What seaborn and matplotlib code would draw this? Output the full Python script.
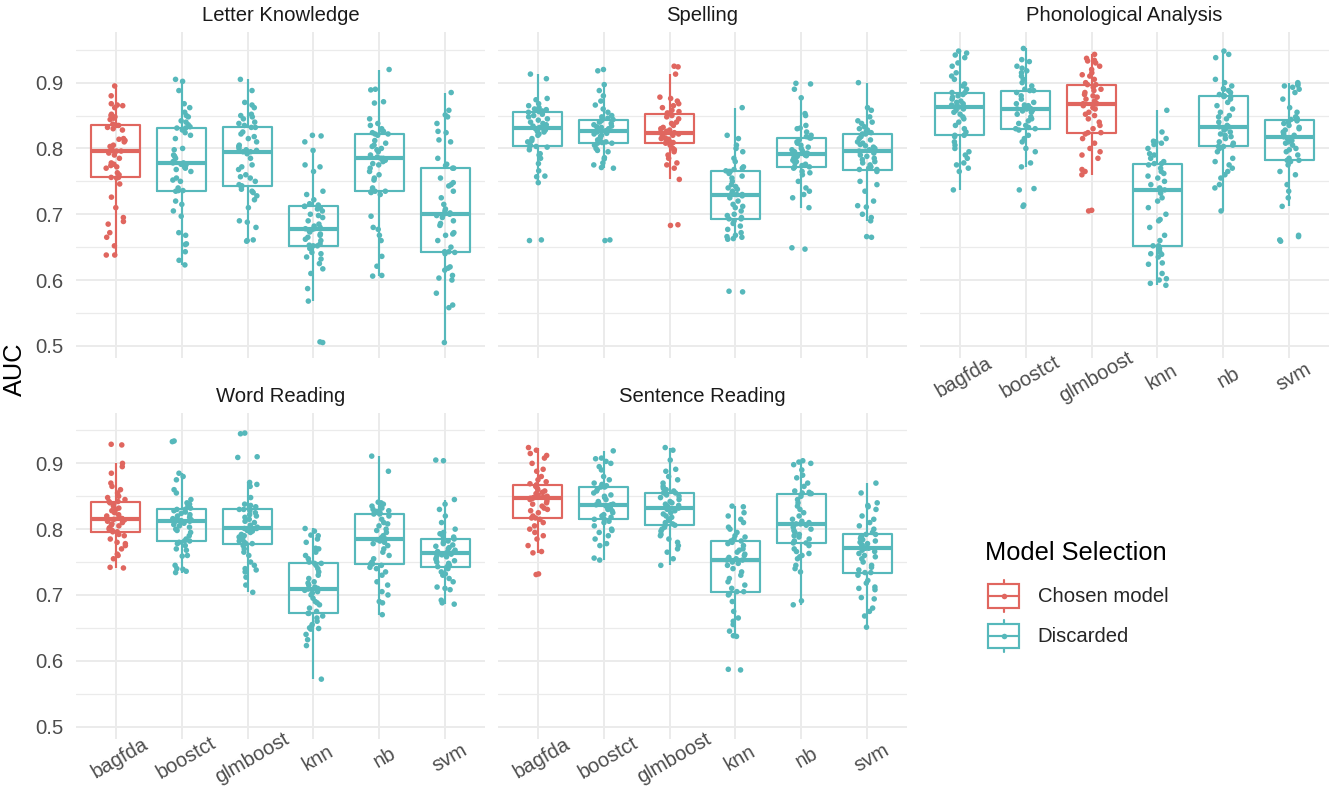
import numpy as np
import pandas as pd
import matplotlib
matplotlib.use("Agg")
import matplotlib.pyplot as plt
import seaborn as sns
from matplotlib.legend_handler import HandlerBase
from matplotlib.patches import Rectangle
from matplotlib.lines import Line2D

# ---------------- data ----------------
tasks = ["Letter Knowledge", "Spelling", "Phonological Analysis",
         "Word Reading", "Sentence Reading"]
models = ["bagfda", "boostct", "glmboost", "knn", "nb", "svm"]
chosen_model = ["bagfda", "glmboost", "glmboost", "bagfda", "bagfda"]
selection_levels = ["Chosen model", "Discarded"]

# Letter Knowledge
lk_bagfda = [0.755, 0.746, 0.726, 0.710, 0.695, 0.689, 0.685, 0.672, 0.665, 0.652, 0.638, 0.638,
             0.756, 0.756, 0.760, 0.763, 0.770, 0.772, 0.774, 0.776, 0.778, 0.785, 0.790, 0.793,
             0.796, 0.796, 0.800, 0.803, 0.805, 0.810, 0.812, 0.814, 0.815, 0.828, 0.830, 0.832,
             0.835, 0.835, 0.837, 0.844, 0.846, 0.848, 0.850, 0.852, 0.862, 0.865, 0.866, 0.868, 0.880, 0.895]
lk_boostct = [0.735, 0.720, 0.715, 0.705, 0.697, 0.672, 0.668, 0.655, 0.654, 0.643, 0.630, 0.623,
              0.736, 0.736, 0.740, 0.750, 0.752, 0.755, 0.765, 0.768, 0.770, 0.772, 0.775, 0.776,
              0.778, 0.778, 0.780, 0.785, 0.788, 0.790, 0.798, 0.800, 0.815, 0.820, 0.824, 0.828,
              0.831, 0.831, 0.833, 0.836, 0.840, 0.842, 0.848, 0.850, 0.855, 0.862, 0.868, 0.888, 0.902, 0.905]
lk_glmboost = [0.738, 0.735, 0.733, 0.728, 0.722, 0.710, 0.690, 0.688, 0.680, 0.661, 0.660, 0.659,
               0.743, 0.743, 0.745, 0.750, 0.755, 0.757, 0.760, 0.768, 0.772, 0.775, 0.785, 0.792,
               0.795, 0.795, 0.797, 0.798, 0.800, 0.803, 0.805, 0.810, 0.815, 0.818, 0.822, 0.825,
               0.832, 0.832, 0.835, 0.838, 0.840, 0.845, 0.848, 0.850, 0.852, 0.862, 0.866, 0.870, 0.888, 0.905]
lk_knn = [0.648, 0.642, 0.640, 0.635, 0.632, 0.625, 0.617, 0.610, 0.587, 0.568, 0.506, 0.505,
          0.652, 0.652, 0.653, 0.655, 0.660, 0.662, 0.665, 0.668, 0.670, 0.673, 0.675, 0.677,
          0.678, 0.678, 0.680, 0.682, 0.685, 0.690, 0.695, 0.698, 0.700, 0.705, 0.708, 0.710,
          0.712, 0.712, 0.714, 0.716, 0.722, 0.730, 0.735, 0.765, 0.772, 0.775, 0.797, 0.810, 0.819, 0.820]
lk_nb = [0.734, 0.733, 0.730, 0.697, 0.680, 0.677, 0.668, 0.660, 0.636, 0.621, 0.607, 0.606,
         0.735, 0.735, 0.740, 0.752, 0.755, 0.760, 0.765, 0.770, 0.775, 0.777, 0.780, 0.782,
         0.785, 0.785, 0.787, 0.790, 0.795, 0.798, 0.800, 0.803, 0.805, 0.808, 0.812, 0.820,
         0.822, 0.822, 0.824, 0.826, 0.828, 0.830, 0.835, 0.838, 0.845, 0.869, 0.871, 0.889, 0.890, 0.920]
lk_svm = [0.642, 0.640, 0.620, 0.618, 0.615, 0.607, 0.603, 0.600, 0.580, 0.562, 0.558, 0.505,
          0.643, 0.643, 0.650, 0.660, 0.668, 0.670, 0.672, 0.683, 0.686, 0.690, 0.695, 0.698,
          0.700, 0.700, 0.702, 0.705, 0.708, 0.715, 0.725, 0.735, 0.743, 0.745, 0.748, 0.755,
          0.770, 0.770, 0.774, 0.776, 0.785, 0.810, 0.813, 0.824, 0.826, 0.838, 0.848, 0.851, 0.858, 0.885]

# Spelling
sp_bagfda = [0.802, 0.798, 0.792, 0.790, 0.785, 0.777, 0.766, 0.758, 0.757, 0.748, 0.661, 0.660,
             0.803, 0.803, 0.805, 0.810, 0.812, 0.815, 0.820, 0.822, 0.825, 0.826, 0.828, 0.830,
             0.831, 0.831, 0.832, 0.834, 0.836, 0.838, 0.840, 0.843, 0.845, 0.848, 0.850, 0.852,
             0.855, 0.855, 0.856, 0.857, 0.858, 0.859, 0.860, 0.862, 0.865, 0.868, 0.874, 0.876, 0.906, 0.913]
sp_boostct = [0.805, 0.800, 0.797, 0.795, 0.786, 0.784, 0.778, 0.775, 0.771, 0.770, 0.661, 0.660,
              0.808, 0.808, 0.809, 0.810, 0.813, 0.815, 0.818, 0.820, 0.822, 0.823, 0.825, 0.826,
              0.827, 0.827, 0.828, 0.829, 0.830, 0.832, 0.833, 0.834, 0.836, 0.838, 0.840, 0.842,
              0.844, 0.844, 0.846, 0.848, 0.850, 0.855, 0.860, 0.866, 0.872, 0.880, 0.888, 0.897, 0.918, 0.920]
sp_glmboost = [0.805, 0.800, 0.798, 0.795, 0.790, 0.785, 0.778, 0.775, 0.770, 0.753, 0.684, 0.683,
               0.808, 0.808, 0.809, 0.810, 0.812, 0.814, 0.815, 0.816, 0.818, 0.820, 0.822, 0.823,
               0.824, 0.824, 0.826, 0.828, 0.830, 0.832, 0.835, 0.838, 0.840, 0.845, 0.848, 0.850,
               0.853, 0.853, 0.854, 0.856, 0.858, 0.862, 0.865, 0.868, 0.872, 0.876, 0.878, 0.913, 0.924, 0.925]
sp_knn = [0.690, 0.686, 0.682, 0.677, 0.672, 0.668, 0.666, 0.665, 0.663, 0.662, 0.583, 0.582,
          0.693, 0.693, 0.695, 0.698, 0.700, 0.705, 0.710, 0.712, 0.715, 0.720, 0.725, 0.728,
          0.730, 0.730, 0.732, 0.735, 0.738, 0.740, 0.742, 0.745, 0.750, 0.755, 0.758, 0.762,
          0.765, 0.765, 0.766, 0.768, 0.770, 0.772, 0.780, 0.785, 0.795, 0.800, 0.805, 0.815, 0.820, 0.862]
sp_nb = [0.770, 0.765, 0.763, 0.760, 0.750, 0.740, 0.735, 0.730, 0.725, 0.710, 0.649, 0.647,
         0.772, 0.772, 0.774, 0.776, 0.778, 0.780, 0.782, 0.784, 0.786, 0.788, 0.789, 0.790,
         0.792, 0.792, 0.793, 0.795, 0.796, 0.798, 0.800, 0.802, 0.805, 0.808, 0.810, 0.813,
         0.816, 0.816, 0.818, 0.820, 0.825, 0.830, 0.831, 0.835, 0.850, 0.853, 0.877, 0.890, 0.898, 0.899]
sp_svm = [0.765, 0.750, 0.745, 0.735, 0.720, 0.713, 0.711, 0.700, 0.695, 0.690, 0.666, 0.665,
          0.768, 0.768, 0.770, 0.772, 0.775, 0.778, 0.780, 0.783, 0.785, 0.788, 0.790, 0.793,
          0.796, 0.796, 0.798, 0.800, 0.802, 0.804, 0.806, 0.808, 0.810, 0.813, 0.815, 0.818,
          0.822, 0.822, 0.824, 0.826, 0.828, 0.830, 0.833, 0.838, 0.840, 0.842, 0.848, 0.858, 0.862, 0.900]

# Phonological Analysis
pa_bagfda = [0.818, 0.810, 0.805, 0.800, 0.795, 0.790, 0.785, 0.778, 0.775, 0.770, 0.765, 0.737,
             0.820, 0.820, 0.825, 0.830, 0.835, 0.840, 0.845, 0.848, 0.852, 0.855, 0.858, 0.860,
             0.863, 0.863, 0.864, 0.865, 0.866, 0.868, 0.870, 0.872, 0.875, 0.878, 0.880, 0.882,
             0.885, 0.885, 0.890, 0.895, 0.898, 0.905, 0.910, 0.915, 0.925, 0.930, 0.938, 0.942, 0.945, 0.948]
pa_boostct = [0.828, 0.820, 0.815, 0.810, 0.800, 0.795, 0.778, 0.772, 0.739, 0.737, 0.714, 0.712,
              0.830, 0.830, 0.832, 0.835, 0.838, 0.842, 0.845, 0.848, 0.852, 0.855, 0.857, 0.858,
              0.860, 0.860, 0.861, 0.862, 0.863, 0.865, 0.866, 0.868, 0.870, 0.875, 0.880, 0.885,
              0.888, 0.888, 0.890, 0.895, 0.900, 0.905, 0.910, 0.915, 0.918, 0.922, 0.925, 0.932, 0.935, 0.952]
pa_glmboost = [0.822, 0.815, 0.808, 0.800, 0.795, 0.790, 0.785, 0.768, 0.765, 0.760, 0.706, 0.705,
               0.824, 0.824, 0.830, 0.835, 0.840, 0.845, 0.850, 0.852, 0.855, 0.860, 0.862, 0.865,
               0.868, 0.868, 0.870, 0.872, 0.875, 0.878, 0.880, 0.882, 0.885, 0.888, 0.890, 0.893,
               0.897, 0.897, 0.900, 0.905, 0.910, 0.912, 0.915, 0.920, 0.925, 0.930, 0.933, 0.934, 0.937, 0.943]
pa_knn = [0.648, 0.643, 0.640, 0.639, 0.635, 0.626, 0.624, 0.610, 0.602, 0.600, 0.595, 0.592,
          0.652, 0.652, 0.660, 0.668, 0.680, 0.690, 0.692, 0.700, 0.710, 0.720, 0.725, 0.732,
          0.737, 0.737, 0.738, 0.740, 0.745, 0.750, 0.755, 0.758, 0.762, 0.765, 0.770, 0.775,
          0.777, 0.777, 0.780, 0.785, 0.790, 0.792, 0.800, 0.806, 0.808, 0.810, 0.811, 0.815, 0.825, 0.858]
pa_nb = [0.800, 0.795, 0.785, 0.780, 0.775, 0.770, 0.765, 0.760, 0.755, 0.745, 0.740, 0.705,
         0.803, 0.803, 0.805, 0.808, 0.810, 0.815, 0.818, 0.820, 0.822, 0.825, 0.828, 0.830,
         0.833, 0.833, 0.835, 0.840, 0.845, 0.848, 0.850, 0.855, 0.860, 0.865, 0.870, 0.875,
         0.879, 0.879, 0.880, 0.882, 0.885, 0.888, 0.890, 0.891, 0.895, 0.900, 0.905, 0.938, 0.943, 0.948]
pa_svm = [0.780, 0.775, 0.765, 0.760, 0.745, 0.735, 0.725, 0.712, 0.668, 0.666, 0.661, 0.659,
          0.782, 0.782, 0.785, 0.790, 0.795, 0.798, 0.800, 0.805, 0.808, 0.810, 0.812, 0.815,
          0.818, 0.818, 0.820, 0.822, 0.825, 0.828, 0.830, 0.832, 0.835, 0.838, 0.840, 0.842,
          0.844, 0.844, 0.846, 0.848, 0.855, 0.862, 0.875, 0.885, 0.890, 0.893, 0.895, 0.896, 0.898, 0.900]

# Word Reading
wr_bagfda = [0.792, 0.790, 0.785, 0.780, 0.778, 0.775, 0.770, 0.762, 0.760, 0.755, 0.742, 0.741,
             0.796, 0.796, 0.798, 0.800, 0.802, 0.805, 0.806, 0.808, 0.810, 0.812, 0.814, 0.815,
             0.816, 0.816, 0.818, 0.820, 0.822, 0.825, 0.828, 0.830, 0.832, 0.835, 0.838, 0.840,
             0.842, 0.842, 0.845, 0.848, 0.850, 0.855, 0.860, 0.865, 0.870, 0.885, 0.895, 0.900, 0.928, 0.929]
wr_boostct = [0.780, 0.778, 0.775, 0.770, 0.768, 0.760, 0.759, 0.745, 0.740, 0.739, 0.736, 0.734,
              0.782, 0.782, 0.785, 0.790, 0.795, 0.798, 0.800, 0.803, 0.805, 0.807, 0.809, 0.810,
              0.812, 0.812, 0.813, 0.814, 0.815, 0.816, 0.818, 0.820, 0.822, 0.824, 0.826, 0.828,
              0.830, 0.830, 0.832, 0.835, 0.838, 0.840, 0.845, 0.855, 0.860, 0.875, 0.880, 0.885, 0.933, 0.934]
wr_glmboost = [0.775, 0.770, 0.765, 0.760, 0.750, 0.745, 0.740, 0.738, 0.735, 0.727, 0.715, 0.704,
               0.778, 0.778, 0.780, 0.782, 0.785, 0.788, 0.790, 0.792, 0.795, 0.797, 0.798, 0.800,
               0.801, 0.801, 0.803, 0.806, 0.810, 0.812, 0.815, 0.818, 0.820, 0.822, 0.825, 0.828,
               0.830, 0.830, 0.832, 0.834, 0.836, 0.838, 0.848, 0.865, 0.868, 0.871, 0.909, 0.910, 0.945, 0.946]
wr_knn = [0.668, 0.665, 0.660, 0.655, 0.652, 0.650, 0.649, 0.648, 0.640, 0.632, 0.623, 0.572,
          0.672, 0.672, 0.675, 0.680, 0.685, 0.688, 0.690, 0.695, 0.700, 0.703, 0.705, 0.707,
          0.709, 0.709, 0.710, 0.712, 0.715, 0.718, 0.720, 0.725, 0.730, 0.735, 0.740, 0.745,
          0.748, 0.748, 0.750, 0.755, 0.760, 0.765, 0.770, 0.771, 0.780, 0.785, 0.790, 0.791, 0.797, 0.801]
wr_nb = [0.745, 0.742, 0.740, 0.735, 0.730, 0.720, 0.715, 0.705, 0.700, 0.690, 0.688, 0.670,
         0.747, 0.747, 0.750, 0.755, 0.760, 0.765, 0.770, 0.775, 0.778, 0.780, 0.782, 0.784,
         0.785, 0.785, 0.787, 0.790, 0.795, 0.798, 0.800, 0.805, 0.808, 0.810, 0.815, 0.820,
         0.823, 0.823, 0.825, 0.827, 0.828, 0.830, 0.832, 0.834, 0.835, 0.838, 0.840, 0.841, 0.888, 0.911]
wr_svm = [0.740, 0.735, 0.732, 0.730, 0.725, 0.720, 0.712, 0.710, 0.708, 0.692, 0.688, 0.686,
          0.743, 0.743, 0.745, 0.748, 0.750, 0.752, 0.754, 0.756, 0.758, 0.760, 0.761, 0.762,
          0.764, 0.764, 0.765, 0.766, 0.768, 0.770, 0.772, 0.774, 0.776, 0.778, 0.780, 0.782,
          0.785, 0.785, 0.788, 0.790, 0.793, 0.795, 0.800, 0.810, 0.820, 0.830, 0.838, 0.845, 0.904, 0.905]

# Sentence Reading
sr_bagfda = [0.815, 0.810, 0.805, 0.800, 0.795, 0.790, 0.785, 0.775, 0.766, 0.764, 0.732, 0.731,
             0.817, 0.817, 0.820, 0.825, 0.828, 0.830, 0.832, 0.835, 0.838, 0.840, 0.843, 0.845,
             0.847, 0.847, 0.848, 0.849, 0.850, 0.852, 0.854, 0.856, 0.858, 0.860, 0.862, 0.865,
             0.867, 0.867, 0.869, 0.872, 0.875, 0.880, 0.888, 0.891, 0.900, 0.908, 0.912, 0.915, 0.920, 0.924]
sr_boostct = [0.812, 0.810, 0.805, 0.800, 0.798, 0.795, 0.790, 0.785, 0.778, 0.775, 0.756, 0.753,
              0.815, 0.815, 0.818, 0.820, 0.822, 0.825, 0.828, 0.830, 0.832, 0.833, 0.835, 0.836,
              0.837, 0.837, 0.838, 0.840, 0.842, 0.845, 0.848, 0.850, 0.852, 0.855, 0.858, 0.861,
              0.864, 0.864, 0.866, 0.868, 0.870, 0.875, 0.880, 0.890, 0.895, 0.900, 0.903, 0.907, 0.908, 0.919]
sr_glmboost = [0.803, 0.800, 0.797, 0.792, 0.790, 0.785, 0.780, 0.775, 0.770, 0.765, 0.755, 0.745,
               0.806, 0.806, 0.808, 0.810, 0.813, 0.815, 0.818, 0.820, 0.823, 0.825, 0.828, 0.830,
               0.832, 0.832, 0.833, 0.835, 0.836, 0.838, 0.840, 0.842, 0.845, 0.848, 0.850, 0.852,
               0.855, 0.855, 0.858, 0.860, 0.862, 0.865, 0.870, 0.875, 0.880, 0.888, 0.891, 0.905, 0.920, 0.924]
sr_knn = [0.702, 0.700, 0.690, 0.675, 0.665, 0.660, 0.655, 0.645, 0.638, 0.637, 0.587, 0.586,
          0.705, 0.705, 0.710, 0.715, 0.720, 0.725, 0.730, 0.735, 0.740, 0.745, 0.748, 0.750,
          0.753, 0.753, 0.755, 0.757, 0.760, 0.762, 0.765, 0.768, 0.770, 0.775, 0.778, 0.780,
          0.782, 0.782, 0.785, 0.788, 0.790, 0.795, 0.800, 0.803, 0.810, 0.815, 0.820, 0.825, 0.834, 0.835]
sr_nb = [0.775, 0.770, 0.766, 0.763, 0.760, 0.758, 0.755, 0.745, 0.740, 0.735, 0.691, 0.685,
         0.779, 0.779, 0.782, 0.785, 0.788, 0.790, 0.792, 0.795, 0.798, 0.800, 0.803, 0.806,
         0.808, 0.808, 0.810, 0.812, 0.815, 0.820, 0.825, 0.830, 0.835, 0.840, 0.845, 0.850,
         0.854, 0.854, 0.855, 0.856, 0.858, 0.865, 0.870, 0.878, 0.882, 0.890, 0.898, 0.900, 0.902, 0.904]
sr_svm = [0.730, 0.722, 0.718, 0.712, 0.710, 0.708, 0.696, 0.694, 0.680, 0.675, 0.668, 0.651,
          0.734, 0.734, 0.738, 0.742, 0.745, 0.750, 0.755, 0.758, 0.760, 0.763, 0.766, 0.768,
          0.771, 0.771, 0.772, 0.774, 0.776, 0.778, 0.780, 0.782, 0.784, 0.786, 0.788, 0.790,
          0.792, 0.792, 0.795, 0.800, 0.805, 0.810, 0.815, 0.820, 0.830, 0.834, 0.836, 0.840, 0.855, 0.870]

task_values = [
    [lk_bagfda, lk_boostct, lk_glmboost, lk_knn, lk_nb, lk_svm],
    [sp_bagfda, sp_boostct, sp_glmboost, sp_knn, sp_nb, sp_svm],
    [pa_bagfda, pa_boostct, pa_glmboost, pa_knn, pa_nb, pa_svm],
    [wr_bagfda, wr_boostct, wr_glmboost, wr_knn, wr_nb, wr_svm],
    [sr_bagfda, sr_boostct, sr_glmboost, sr_knn, sr_nb, sr_svm],
]

rows = []
for t, ch, per_model in zip(tasks, chosen_model, task_values):
    for m, vals in zip(models, per_model):
        sel = "Chosen model" if m == ch else "Discarded"
        for v in vals:
            rows.append((t, m, sel, v))
df = pd.DataFrame(rows, columns=["task", "model", "selection", "AUC"])

# ---------------- style ----------------
sns.set_theme(style="white")
plt.rcParams["font.family"] = ["Liberation Sans", "DejaVu Sans"]

RED = "#E0665F"
TEAL = "#56B8BB"
palette = {"Chosen model": RED, "Discarded": TEAL}
GRID = "#EBEBEB"
TICK_FS = 14.6
BASE_FS = 18.3
BOX_LW = 1.55

W, H = 1333, 791
fig = plt.figure(figsize=(W / 100, H / 100), dpi=100, facecolor="white")

col_left = [76, 498, 920]
row_top = [32, 412.7]
pw, ph = 409, 326

positions = [(0, 0), (0, 1), (0, 2), (1, 0), (1, 1)]
np.random.seed(3)

for t, (r, c) in zip(tasks, positions):
    left = col_left[c] / W
    bottom = 1 - (row_top[r] + ph) / H
    ax = fig.add_axes([left, bottom, pw / W, ph / H])
    d = df[df.task == t]
    sns.boxplot(data=d, x="model", y="AUC", hue="selection", order=models,
                hue_order=selection_levels, palette=palette, dodge=False,
                fill=False, width=0.75, linewidth=BOX_LW, whis=1.5,
                showfliers=False, showcaps=False,
                medianprops=dict(linewidth=3.0), legend=False, ax=ax)
    sns.stripplot(data=d, x="model", y="AUC", hue="selection", order=models,
                  hue_order=selection_levels, palette=palette, dodge=False,
                  jitter=0.15, size=4.0, linewidth=0, legend=False, ax=ax,
                  zorder=3)
    ax.set_xlim(-0.6, 5.6)
    ax.set_ylim(0.4815, 0.977)
    for s in ax.spines.values():
        s.set_visible(False)
    ax.set_yticks([0.5, 0.6, 0.7, 0.8, 0.9])
    ax.set_yticks([0.55, 0.65, 0.75, 0.85, 0.95], minor=True)
    ax.set_yticklabels(["0.5", "0.6", "0.7", "0.8", "0.9"])
    ax.grid(True, which="major", axis="both", color=GRID, linewidth=1.4)
    ax.grid(True, which="minor", axis="y", color=GRID, linewidth=0.9)
    ax.set_axisbelow(True)
    ax.tick_params(which="both", length=0, labelsize=TICK_FS, labelcolor="#4D4D4D")
    ax.tick_params(axis="y", pad=9)
    ax.tick_params(axis="x", pad=8)
    ax.set_xlabel("")
    ax.set_ylabel("")
    ax.set_title(t, fontsize=TICK_FS, color="#1A1A1A", pad=8)
    if c != 0:
        ax.tick_params(axis="y", labelleft=False)
    if t in ("Letter Knowledge", "Spelling"):
        ax.tick_params(axis="x", labelbottom=False)
    else:
        for lab in ax.get_xticklabels():
            lab.set_rotation(30)
            lab.set_rotation_mode("anchor")
            lab.set_ha("center")
            lab.set_va("top")

fig.text(15 / W, 1 - 369 / H, "AUC", rotation=90, ha="center", va="center",
         fontsize=BASE_FS, color="black")


class BoxKeyHandler(HandlerBase):
    def create_artists(self, legend, orig_handle, xdescent, ydescent,
                       width, height, fontsize, trans):
        col = orig_handle.get_color()
        x0 = -xdescent
        y0 = -ydescent
        cx, cy = x0 + width / 2, y0 + height / 2
        span = height * 0.86
        bh = span * 0.72
        rect = Rectangle((x0, cy - bh / 2), width, bh, fill=False,
                         edgecolor=col, linewidth=BOX_LW, transform=trans)
        med = Line2D([x0, x0 + width], [cy, cy], color=col, lw=BOX_LW, transform=trans)
        wt = Line2D([cx, cx], [cy + bh / 2, cy + span / 2], color=col, lw=BOX_LW, transform=trans)
        wb = Line2D([cx, cx], [cy - span / 2, cy - bh / 2], color=col, lw=BOX_LW, transform=trans)
        dot = Line2D([cx], [cy], marker="o", markersize=4.0, color=col,
                     markeredgewidth=0, linestyle="none", transform=trans)
        return [rect, med, wt, wb, dot]


fig.text(985 / W, 1 - 560 / H, "Model Selection", ha="left", va="baseline",
         fontsize=BASE_FS, color="black")

handles = [Line2D([], [], color=palette[s]) for s in selection_levels]
fig.legend(handles, selection_levels, handler_map={Line2D: BoxKeyHandler()},
           loc="upper left", bbox_to_anchor=(988 / W, 1 - 577 / H),
           frameon=False, fontsize=TICK_FS, borderpad=0, borderaxespad=0,
           handlelength=1.55, handleheight=2.49, labelspacing=0.11,
           handletextpad=0.9)

fig.savefig("out.png", dpi=100, facecolor="white")
